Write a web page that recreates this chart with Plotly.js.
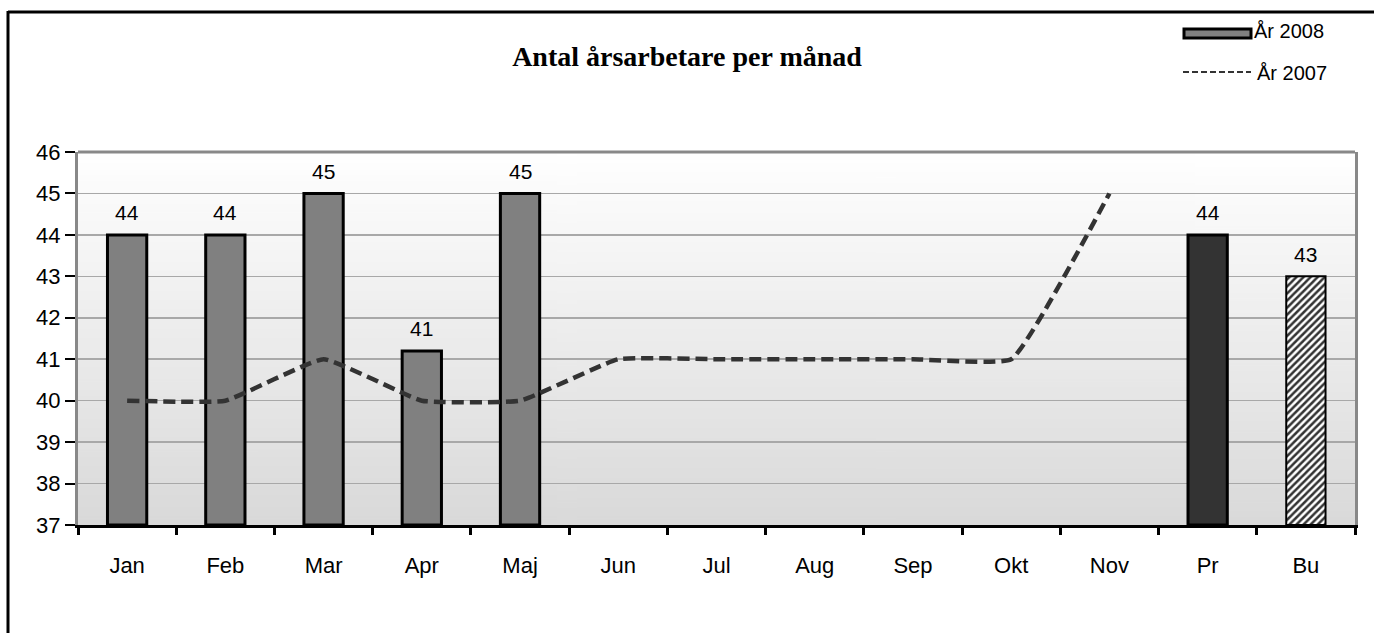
<!DOCTYPE html>
<html>
<head>
<meta charset="utf-8">
<script src="https://cdn.plot.ly/plotly-3.0.1.min.js"></script>
<style>
html,body{margin:0;padding:0;background:#fff;}
#chart{width:1374px;height:633px;}
</style>
</head>
<body>
<div id="chart"></div>
<script>
// ---- data ----
var categories = ['Jan','Feb','Mar','Apr','Maj','Jun','Jul','Aug','Sep','Okt','Nov','Pr','Bu'];
var values2008 = [44, 44, 45, 41.2, 45, null, null, null, null, null, null, 44, 43];
var labels2008 = ['44','44','45','41','45','','','','','','','44','43'];
var months2007 = ['Jan','Feb','Mar','Apr','Maj','Jun','Jul','Aug','Sep','Okt','Nov'];
var values2007 = [40, 40, 41, 40, 40, 41, 41, 41, 41, 41, 45];
var yTicks = [37,38,39,40,41,42,43,44,45,46];
var titleText = 'Antal årsarbetare per månad';
var legendNames = ['År 2008', 'År 2007'];

// ---- layout geometry helpers (pixel -> paper) ----
var W = 1374, H = 633;
var mL = 78, mR = 19, mT = 152, mB = 108;
var plotW = W - mL - mR, plotH = H - mT - mB;
function px(x){ return (x - mL) / plotW; }
function py(y){ return (H - mB - y) / plotH; }
var SANS = 'Liberation Sans, Arial, sans-serif';
var BASE = 37;

// gradient background image
var cv = document.createElement('canvas');
cv.width = 4; cv.height = 256;
var ctx = cv.getContext('2d');
var g = ctx.createLinearGradient(0,0,0,256);
g.addColorStop(0,'#ffffff');
g.addColorStop(1,'#d9d9d9');
ctx.fillStyle = g; ctx.fillRect(0,0,4,256);
var bgURL = cv.toDataURL();

// split bars: solid (all but Bu) and hatched (Bu)
var solidY = values2008.map(function(v,i){ return (v===null || categories[i]==='Bu') ? null : v - BASE; });
var hatchY = values2008.map(function(v,i){ return (v===null || categories[i]!=='Bu') ? null : v - BASE; });
var barColors = categories.map(function(c){ return c==='Pr' ? '#333333' : '#808080'; });

var traceBars = {
  type:'bar', x: categories, y: solidY, base: BASE, width: 0.4, name: legendNames[0],
  marker:{ color: barColors, line:{color:'#000', width:3} },
  showlegend:false
};
var traceHatch = {
  type:'bar', x: categories, y: hatchY, base: BASE, width: 0.4, name: legendNames[0],
  marker:{ color:'#ffffff', line:{color:'#000', width:2},
    pattern:{shape:'/', fgcolor:'#333333', bgcolor:'#ffffff', fillmode:'replace', size:5, solidity:0.5} },
  showlegend:false
};

var traceLine = {
  type:'scatter', mode:'lines', x: months2007, y: values2007, name: legendNames[1],
  line:{color:'#333333', width:4.5, dash:'12px,6px', shape:'spline', smoothing:0.35},
  showlegend:false
};

var annotations = [];
values2008.forEach(function(v,i){
  if (v===null) return;
  annotations.push({x: categories[i], y: v, xref:'x', yref:'y', text: labels2008[i],
    showarrow:false, yanchor:'middle', yshift:22,
    font:{family:SANS, size:21, color:'#000'}});
});
annotations.push({xref:'paper', yref:'paper', x:px(1252), y:py(31), xanchor:'left', yanchor:'middle',
  text: legendNames[0], showarrow:false, font:{family:SANS, size:20, color:'#000'}});
annotations.push({xref:'paper', yref:'paper', x:px(1255), y:py(73), xanchor:'left', yanchor:'middle',
  text: legendNames[1], showarrow:false, font:{family:SANS, size:20, color:'#000'}});

var shapes = [
  {type:'line', xref:'paper', yref:'paper', x0:px(8), x1:px(1380), y0:py(12), y1:py(12), line:{color:'#000', width:3}},
  {type:'line', xref:'paper', yref:'paper', x0:px(8), x1:px(8), y0:py(11), y1:py(640), line:{color:'#000', width:3}},
  {type:'line', xref:'paper', yref:'paper', x0:0, x1:1, y0:1, y1:1, line:{color:'#888', width:3}},
  {type:'rect', xref:'paper', yref:'paper', x0:px(1184), x1:px(1251), y0:py(29), y1:py(38), fillcolor:'#808080', line:{color:'#000', width:3}},
  {type:'line', xref:'paper', yref:'paper', x0:px(1183), x1:px(1251), y0:py(72), y1:py(72), line:{color:'#333', width:2, dash:'6px,3px'}}
];

var layout = {
  width: W, height: H,
  margin:{l:mL, r:mR, t:mT, b:mB, pad:0},
  paper_bgcolor:'#ffffff', plot_bgcolor:'#ffffff',
  showlegend:false,
  barmode:'overlay',
  title:{text:titleText, xref:'container', x:0.5, xanchor:'center', y:1-56/H, yref:'container', yanchor:'middle',
    font:{family:'Liberation Serif, Times New Roman, serif', size:28, color:'#000', weight:'bold'}},
  font:{family:SANS, color:'#000'},
  xaxis:{
    type:'category', categoryorder:'array', categoryarray: categories,
    range:[-0.5, 12.5], showgrid:false,
    showline:true, linecolor:'#000', linewidth:3,
    ticks:'outside', tickson:'boundaries', ticklen:7, tickwidth:3, tickcolor:'#000',
    ticklabelstandoff: 19,
    tickfont:{family:SANS, size:22, color:'#000'},
    fixedrange:true, zeroline:false
  },
  yaxis:{
    range:[37, 46], tickvals: yTicks, ticktext: yTicks.map(String),
    showgrid:true, gridcolor:'#a8a8a8', gridwidth:1.5,
    showline:true, linecolor:'#888', linewidth:3, mirror:true,
    ticks:'outside', ticklen:10, tickwidth:2, tickcolor:'#000',
    tickfont:{family:SANS, size:22, color:'#000'},
    zeroline:false, fixedrange:true
  },
  images:[{source:bgURL, xref:'x domain', yref:'y domain', x:0, y:1, sizex:1, sizey:1,
    sizing:'stretch', xanchor:'left', yanchor:'top', layer:'below'}],
  shapes: shapes,
  annotations: annotations
};

Plotly.newPlot('chart', [traceBars, traceHatch, traceLine], layout, {displayModeBar:false, staticPlot:true});
</script>
</body>
</html>
